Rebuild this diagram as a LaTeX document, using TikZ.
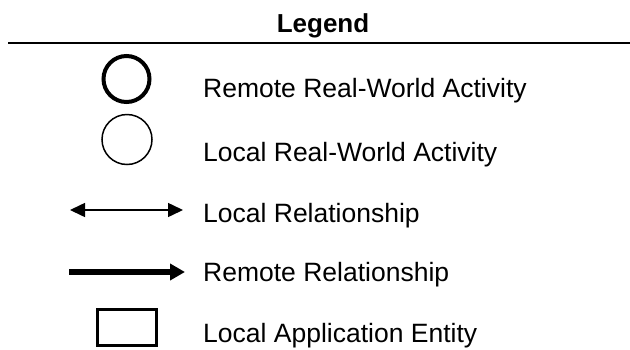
\documentclass[tikz,border=0pt]{standalone}
\usepackage{fontspec}
\setmainfont{Liberation Sans}
\usetikzlibrary{arrows.meta}

\tikzset{
  legendtext/.style={anchor=base west,inner sep=0pt,font=\fontsize{26.5}{30}\selectfont},
  thickring/.style={draw,circle,line width=4pt,minimum size=46pt,inner sep=0pt},
  thinring/.style={draw,circle,line width=1.5pt,minimum size=50pt,inner sep=0pt},
  entitybox/.style={draw,rectangle,line width=2.5pt,minimum width=59pt,minimum height=36pt,inner sep=0pt},
  localrel/.style={line width=1.5pt,{Triangle[length=15pt,width=14pt]}-{Triangle[length=15pt,width=14pt]}},
  remoterel/.style={line width=5.5pt,-{Triangle[length=15pt,width=16pt]}}
}

\begin{document}
\begin{tikzpicture}[x=1pt,y=-1pt]
\useasboundingbox (0,0) rectangle (630,349);
% title and rule
\node[anchor=base,inner sep=0pt,font=\fontsize{26}{30}\selectfont\bfseries] (title) at (323,32) {Legend};
\coordinate (rulel) at (8,43);
\coordinate (ruler) at (630,43);
\draw[line width=2.5pt] (rulel) -- (ruler);
% symbols
\node[thickring] (remoteact) at (126.5,79) {};
\node[thinring] (localact) at (127,139.5) {};
\coordinate (lrl) at (70,210);
\coordinate (lrr) at (183,210);
\draw[localrel] (lrl) -- (lrr);
\coordinate (rrl) at (69,272);
\coordinate (rrr) at (185,272);
\draw[remoterel] (rrl) -- (rrr);
\node[entitybox] (entity) at (127,327.5) {};
% labels
\node[legendtext] (remoteacttxt) at (203,97) {Remote Real-World Activity};
\node[legendtext] (localacttxt) at (203,161) {Local Real-World Activity};
\node[legendtext] (localreltxt) at (203,222) {Local Relationship};
\node[legendtext] (remotereltxt) at (203,281) {Remote Relationship};
\node[legendtext] (entitytxt) at (203,342) {Local Application Entity};
\end{tikzpicture}
\end{document}
